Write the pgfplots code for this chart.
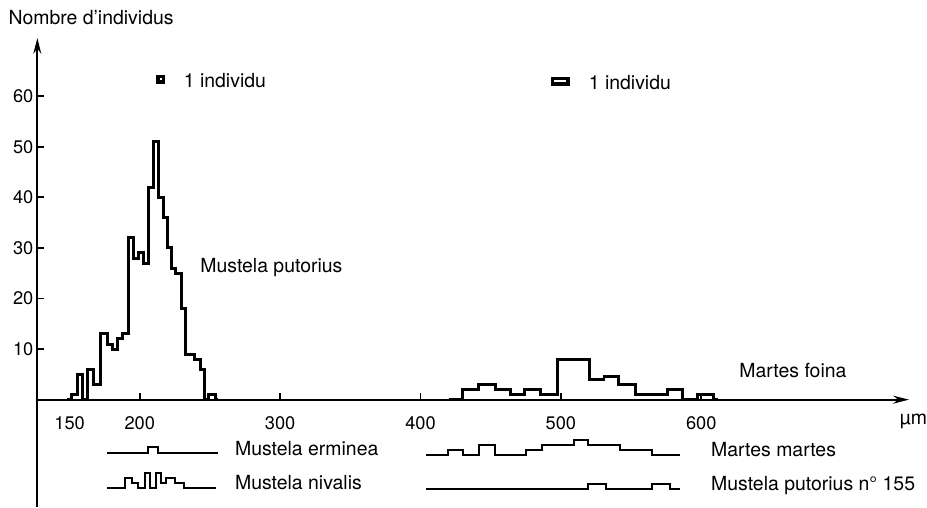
\documentclass[border=0pt]{standalone}
\usepackage{fontspec}
\setmainfont{TeX Gyre Heros}
\usepackage{pgfplots}
\pgfplotsset{compat=1.18}
\usetikzlibrary{arrows.meta}

\begin{document}
\begin{tikzpicture}[font=\fontsize{9.8}{12}\selectfont]
\begin{axis}[
  x=0.7075pt, y=2.55pt,
  xmin=127, xmax=748, ymin=-21.2, ymax=71.5,
  axis x line=middle, axis y line=left,
  axis line style={line width=0.9pt, black},
  every inner x axis line/.append style={-{Stealth[length=8pt,width=4pt]}},
  every outer y axis line/.append style={-{Stealth[length=8pt,width=4pt]}},
  xtick={200,300,400,500,600},
  extra x ticks={150},
  extra x tick style={major tick length=0pt},
  ytick={10,20,30,40,50,60},
  tick align=inside,
  major tick length=3.5pt,
  tick style={line width=0.9pt, black},
  xticklabel style={font=\fontsize{9.2}{11}\selectfont, yshift=-5pt},
  yticklabel style={font=\fontsize{9.2}{11}\selectfont, xshift=1.5pt},
  /pgf/number format/assume math mode=true,
  clip=false,
]
% bounding box of the figure
\path (axis cs:100.4,79) rectangle (axis cs:755.5,-21.2);

% Mustela putorius
\addplot[const plot, line width=1.5pt, black, line join=miter] coordinates {
(148,0) (151,1) (155.7,5) (159.2,0) (162.8,6) (167,3) (172.2,13) (176.9,11)
(180.4,10) (184,12) (187.5,13) (191.7,32) (195.8,28) (199.3,29) (202.8,27)
(206.4,42) (209.9,51) (213.4,40) (216.8,36) (219.8,30) (222.8,26) (225.2,25)
(229.4,18) (232.3,9) (239.3,8) (242.9,6) (245.9,0) (248.8,1) (253.9,0) (256,0)};

% Martes foina
\addplot[const plot, line width=1.5pt, black, line join=miter] coordinates {
(420,0) (429.7,2) (441.5,3) (453.2,2) (463.8,1) (474.4,2) (485.5,1) (497.3,8)
(520.1,4) (530.7,4.5) (541.3,3) (553.4,1) (575.8,2) (586.8,0) (597.4,1)
(608.7,0) (612,0)};

% Mustela erminea
\addplot[const plot, line width=1pt, black, y filter/.expression={y-10.6}] coordinates {
(176.9,0) (205.9,1.2) (212.9,0) (256,0)};

% Mustela nivalis
\addplot[const plot, line width=1pt, black, y filter/.expression={y-17.45}] coordinates {
(176.9,0) (189.4,2) (194.1,1) (199,0) (204,3) (207,0) (211.5,3) (215,1)
(218.5,2) (225,1) (231.5,0) (254.2,0)};

% Martes martes
\addplot[const plot, line width=1pt, black, y filter/.expression={y-10.9}] coordinates {
(404.2,0) (419.6,1) (430.2,0) (441.9,2) (453.2,0) (474.9,1) (486.2,2) (509,3)
(519.6,2) (542,1) (564.9,0) (584.5,0)};

% Mustela putorius no 155
\addplot[const plot, line width=1pt, black, y filter/.expression={y-17.65}] coordinates {
(404.2,0) (519.2,1) (531.9,0) (564.9,1) (577.4,0) (584.5,0)};

% "1 individu" keys
\addplot[line width=1.8pt, black, line cap=rect] coordinates {
(213.0,62.8) (217.0,62.8) (217.0,63.9) (213.0,63.9) (213.0,62.8)};
\addplot[line width=1.6pt, black, line cap=rect] coordinates {
(494,62.4) (505,62.4) (505,63.5) (494,63.5) (494,62.4)};

\node[anchor=base west, inner sep=0pt] at (axis cs:106.2,74.2) {Nombre d’individus};
\node[anchor=base west, inner sep=0pt] at (axis cs:231.1,61.7) {1 individu};
\node[anchor=base west, inner sep=0pt] at (axis cs:519.6,61.4) {1 individu};
\node[anchor=base west, inner sep=0pt] at (axis cs:242.9,25.2) {Mustela putorius};
\node[anchor=base west, inner sep=0pt] at (axis cs:626.9,4.45) {Martes foina};
\node[anchor=base west, inner sep=0pt] at (axis cs:741.3,-5.0) {µm};
\node[anchor=base west, inner sep=0pt] at (axis cs:267.6,-11.0) {Mustela erminea};
\node[anchor=base west, inner sep=0pt] at (axis cs:267.6,-17.7) {Mustela nivalis};
\node[anchor=base west, inner sep=0pt] at (axis cs:606.8,-11.2) {Martes martes};
\node[anchor=base west, inner sep=0pt] at (axis cs:606.8,-18.0) {Mustela putorius n° 155};
\end{axis}
\end{tikzpicture}
\end{document}
